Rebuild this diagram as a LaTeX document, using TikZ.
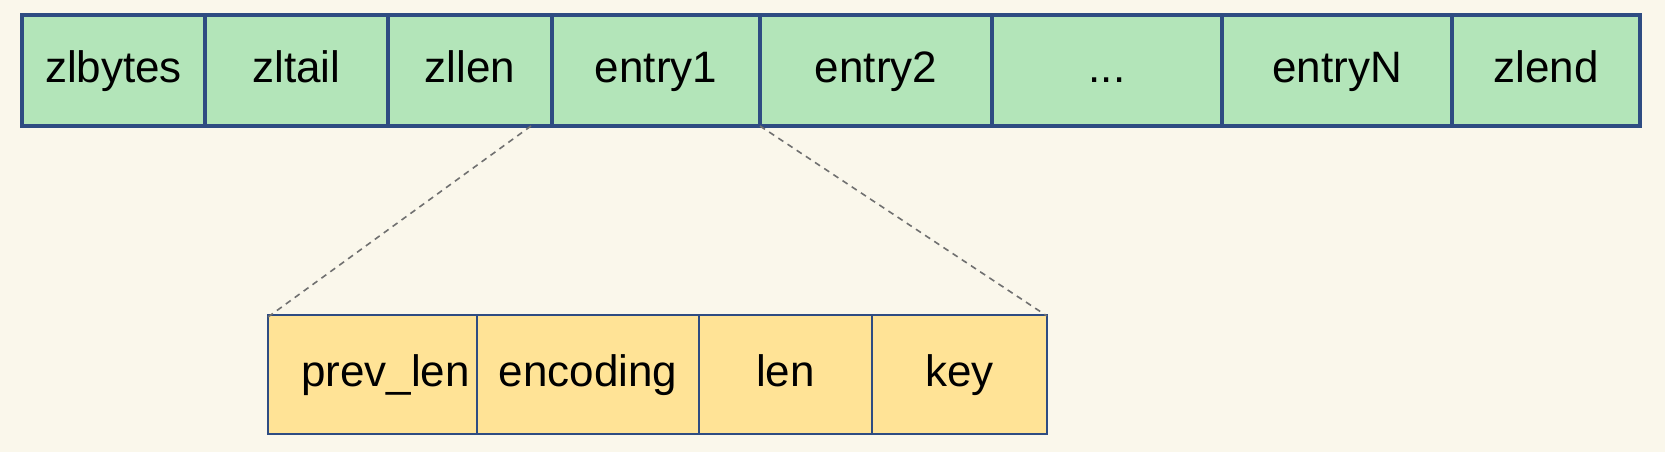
\documentclass[tikz,border=0pt]{standalone}
\usepackage{fontspec}
\setmainfont{Liberation Sans}
\definecolor{bgc}{HTML}{FAF7EB}
\definecolor{greenfill}{HTML}{B3E5B9}
\definecolor{yellowfill}{HTML}{FFE396}
\definecolor{bordc}{HTML}{2E4C82}
\definecolor{dashc}{HTML}{707070}
\tikzset{
  cell/.style={draw=bordc, inner sep=0pt, outer sep=0pt, text height=24pt, text depth=0pt,
    font=\fontsize{44}{50}\selectfont},
  gcell/.style={cell, fill=greenfill, line width=3.6pt, minimum height=111pt},
  ycell/.style={cell, fill=yellowfill, line width=2.2pt, minimum height=119pt},
  guide/.style={draw=dashc, line width=1.6pt, dash pattern=on 6pt off 5pt}
}
\begin{document}
\begin{tikzpicture}[x=1pt,y=-1pt]
\fill[bgc] (0,0) rectangle (1665,452);
\useasboundingbox (0,0) rectangle (1665,452);
% top row
\node[gcell, minimum width=183pt] (zlbytes) at (113.5,70.5) {zlbytes};
\node[gcell, minimum width=183pt] (zltail) at (296.5,70.5) {zltail};
\node[gcell, minimum width=164pt] (zllen) at (470,70.5) {zllen};
\node[gcell, minimum width=208pt] (entry1) at (656,70.5) {entry1};
\node[gcell, minimum width=232pt] (entry2) at (876,70.5) {entry2};
\node[gcell, minimum width=230pt] (dots) at (1107,70.5) {...};
\node[gcell, minimum width=230pt] (entryN) at (1337,70.5) {entryN};
\node[gcell, minimum width=188pt] (zlend) at (1546,70.5) {zlend};
% bottom row
\node[ycell, minimum width=209pt] (prevlen) at (372.5,374.5) {\hspace*{26pt}prev\_len};
\node[ycell, minimum width=222pt] (encoding) at (588,374.5) {encoding};
\node[ycell, minimum width=173pt] (len) at (785.5,374.5) {len};
\node[ycell, minimum width=175pt] (key) at (959.5,374.5) {key};
% guides
\coordinate (gstart) at ([xshift=-21pt]entry1.south west);
\draw[guide] (gstart) -- ([yshift=-2pt]prevlen.north west);
\draw[guide] (entry1.south east) -- ([yshift=-1pt]key.north east);
\end{tikzpicture}
\end{document}
